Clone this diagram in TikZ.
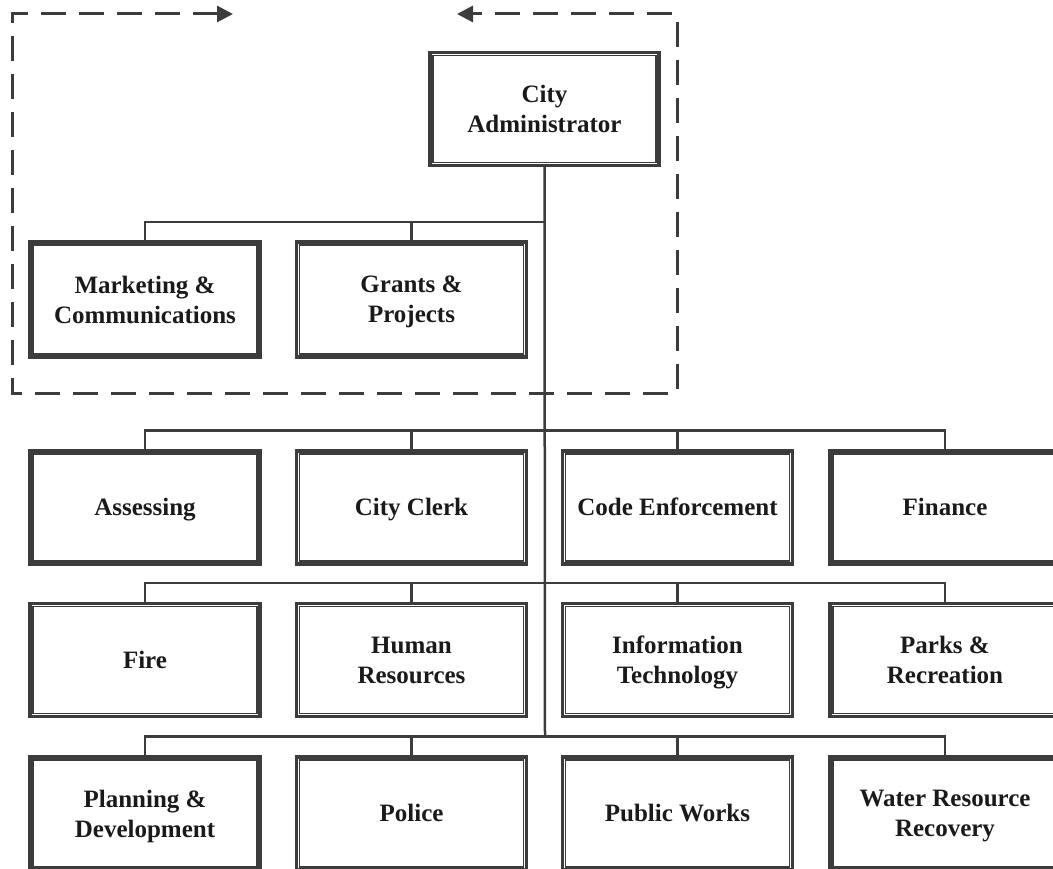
\documentclass[tikz,border=0pt]{standalone}
\usepackage{fontspec}
\setmainfont{Liberation Serif}
\usetikzlibrary{arrows.meta}
\definecolor{ln}{HTML}{3C3C3C}
\definecolor{tx}{HTML}{1A1A1A}
\newcommand{\boxstrut}{\rule[-8pt]{0pt}{32pt}}
\begin{document}
\begin{tikzpicture}[x=1pt,y=-1pt,
  box/.style={draw=ln, line width=3.5pt, minimum width=230pt, minimum height=113pt,
    inner sep=0pt, align=center, text=tx,
    font=\fontsize{25}{30}\selectfont\bfseries,
    execute at begin node=\boxstrut, execute at end node=\boxstrut},
  twoline/.style={text depth=#1},
  twoline/.default=0pt,
  conn/.style={draw=ln, line width=2.5pt},
  dashline/.style={draw=ln, line width=3pt, dash pattern=on 25pt off 13pt,
    line join=miter, {Triangle[length=16pt,width=16pt]}-{Triangle[length=16pt,width=16pt]}}]
\useasboundingbox (0,0) rectangle (1053,869);
\begin{scope}
\clip (0,0) rectangle (1053,869);
% nodes
\node[box, twoline=-4pt, minimum width=229pt] (ca) at (544.5,109) {City\\Administrator};
\node[box, twoline, minimum height=115pt] (mk) at (145,299.5) {Marketing \&\\Communications};
\node[box, twoline, minimum height=115pt] (gp) at (411.5,299.5) {Grants \&\\Projects};
\node[box] (as) at (145,507.5) {Assessing};
\node[box] (cc) at (411.5,507.5) {City Clerk};
\node[box] (ce) at (677.5,507.5) {Code Enforcement};
\node[box] (fi) at (945,507.5) {Finance};
\node[box] (fr) at (145,660) {Fire};
\node[box, twoline] (hr) at (411.5,660) {Human\\Resources};
\node[box, twoline] (it) at (677.5,660) {Information\\Technology};
\node[box, twoline] (pr) at (945,660) {Parks \&\\Recreation};
\node[box, twoline] (pd) at (145,813.5) {Planning \&\\Development};
\node[box] (po) at (411.5,813.5) {Police};
\node[box] (pw) at (677.5,813.5) {Public Works};
\node[box, twoline] (wr) at (945,813.5) {Water Resource\\Recovery};
% inner lines of double borders
\foreach \n in {ca,mk,gp,as,cc,ce,fi,fr,hr,it,pr,pd,po,pw,wr}{
  \draw[ln, line width=1.3pt] ([shift={(4.8pt,4.8pt)}]\n.south west) rectangle ([shift={(-4.8pt,-4.8pt)}]\n.north east);
}
% connectors
\coordinate (b0) at (545,222);
\coordinate (b3) at (545,737);
\draw[conn] (ca.south) -- (b3);
\draw[conn] (mk.north) |- (b0);
\draw[conn] (gp.north) -- (gp.north |- b0);
\draw[conn] (as.north) -- ++(0,-19) -| (fi.north);
\draw[conn] (cc.north) -- ++(0,-19);
\draw[conn] (ce.north) -- ++(0,-19);
\draw[conn] (fr.north) -- ++(0,-19) -| (pr.north);
\draw[conn] (hr.north) -- ++(0,-19);
\draw[conn] (it.north) -- ++(0,-19);
\draw[conn] (pd.north) -- ++(0,-19) -| (wr.north);
\draw[conn] (po.north) -- ++(0,-19);
\draw[conn] (pw.north) -- ++(0,-19);
% dashed boundary
\coordinate (d1) at (233,14);
\coordinate (d2) at (12,14);
\coordinate (d3) at (12,393);
\coordinate (d4) at (677,393);
\coordinate (d5) at (677,14);
\coordinate (d6) at (457,14);
\draw[dashline] (d1) -- (d2) -- (d3) -- (d4) -- (d5) -- (d6);
\end{scope}
\end{tikzpicture}
\end{document}
